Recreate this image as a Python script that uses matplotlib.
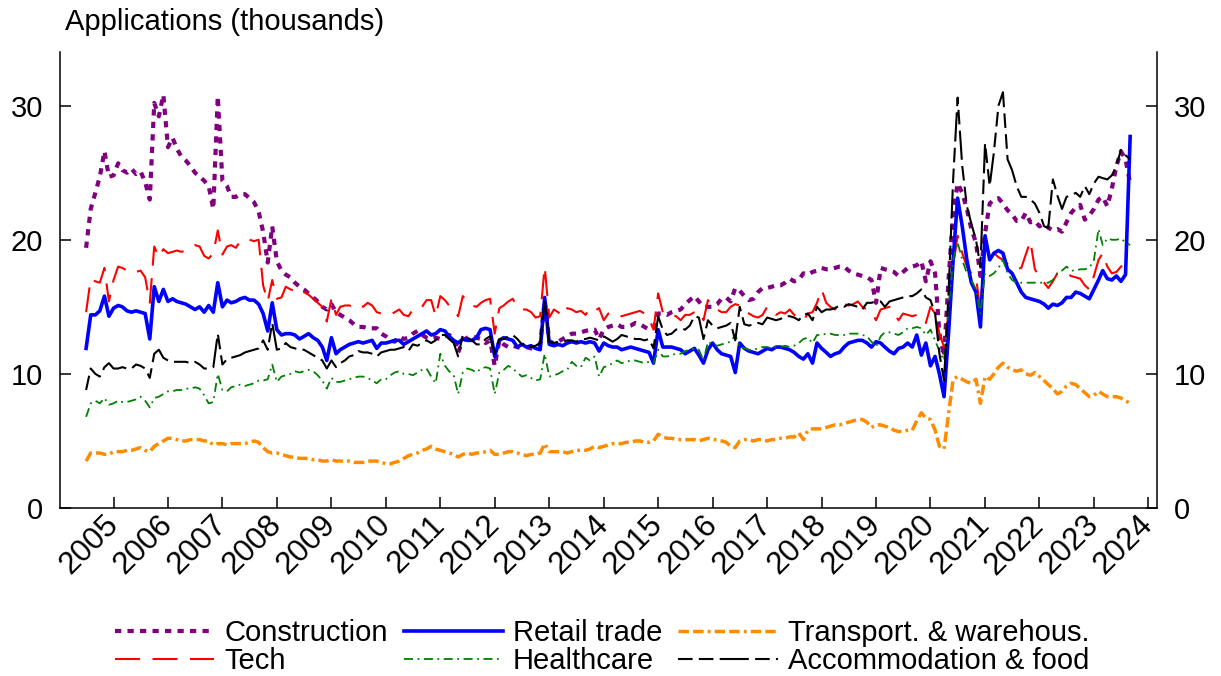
import matplotlib
matplotlib.use("Agg")
import matplotlib.pyplot as plt
import pandas as pd

plt.rcParams['font.family'] = ['Liberation Sans', 'DejaVu Sans']

# monthly, Jul 2004 - Sep 2023 (thousands of applications)
months = pd.date_range('2004-07-01', periods=231, freq='MS')

construction = [
    19.4, 22.3, 23.5, 24.7, 26.6, 24.7,
    24.8, 25.7, 25.2, 25.0, 25.3, 24.9, 25.1, 24.3, 23.0, 30.2, 29.2, 30.8,
    26.9, 27.6, 26.8, 26.2, 25.9, 25.5, 25.0, 24.7, 24.4, 24.0, 22.3, 30.7,
    24.4, 24.0, 23.2, 23.2, 23.4, 23.4, 23.1, 22.8, 22.1, 20.6, 18.3, 21.0,
    18.4, 17.7, 17.4, 17.2, 16.8, 16.5, 16.3, 16.0, 15.7, 15.4, 15.0, 14.8,
    15.2, 14.6, 14.4, 14.2, 14.0, 13.7, 13.5, 13.5, 13.4, 13.4, 13.4, 13.0,
    12.8, 12.5, 12.4, 12.8, 12.6, 12.7, 13.0, 13.2, 12.9, 12.7, 12.6, 12.7,
    12.6, 12.8, 12.9, 12.7, 11.6, 12.5, 12.7, 12.8, 12.7, 12.6, 12.3, 12.5,
    10.6, 12.5, 12.2, 12.0, 12.1, 12.0, 11.9, 12.0, 11.9, 12.0, 12.2, 15.5,
    12.4, 12.3, 12.4, 12.6, 12.8, 13.0, 13.0, 13.1, 13.2, 13.3, 13.3, 12.6,
    13.3, 13.5, 13.6, 13.7, 13.5, 13.5, 13.6, 13.8, 13.7, 13.5, 13.3, 13.4,
    14.5, 14.5, 14.4, 14.6, 14.7, 14.8, 15.2, 15.5, 15.8, 15.4, 15.0, 15.0,
    15.0, 15.2, 15.6, 15.7, 15.4, 16.4, 16.2, 15.8, 15.5, 15.6, 16.1, 16.4,
    16.4, 16.5, 16.6, 16.6, 16.8, 17.1, 16.9, 17.0, 17.5, 17.4, 17.6, 17.7,
    17.9, 17.8, 17.8, 17.9, 18.0, 18.0, 17.7, 17.5, 17.4, 17.3, 17.2, 17.0,
    15.3, 17.9, 17.8, 17.7, 17.6, 17.3, 17.6, 17.9, 18.0, 18.1, 18.4, 16.9,
    18.4, 17.5, 13.0, 11.3, 17.0, 22.0, 24.2, 23.5, 22.3, 20.8, 19.8, 17.3,
    20.5, 22.7, 23.0, 23.1, 22.7, 22.2, 21.9, 21.4, 21.4, 22.0, 21.3, 21.4,
    21.0, 21.2, 20.9, 20.7, 20.8, 20.6, 21.3, 22.0, 22.4, 22.6, 21.5, 21.8,
    22.3, 23.0, 23.2, 22.5, 23.8, 25.5, 26.6, 26.0, 24.2,
]

retail = [
    11.9, 14.4, 14.4, 14.7, 15.8, 14.3,
    14.9, 15.1, 15.0, 14.7, 14.6, 14.7, 14.6, 14.5, 12.6, 16.5, 15.4, 16.3,
    15.4, 15.6, 15.4, 15.3, 15.2, 15.0, 14.8, 15.0, 14.6, 15.1, 14.6, 16.8,
    15.0, 15.5, 15.3, 15.4, 15.6, 15.7, 15.5, 15.5, 15.2, 14.5, 13.2, 15.3,
    13.3, 12.9, 13.0, 13.0, 12.9, 12.6, 12.8, 13.0, 12.7, 12.5, 12.0, 11.0,
    12.7, 11.5, 11.8, 12.0, 12.2, 12.3, 12.4, 12.3, 12.4, 12.5, 11.9, 12.3,
    12.3, 12.4, 12.5, 12.5, 12.2, 12.4, 12.6, 12.8, 13.0, 13.2, 12.9, 13.0,
    13.3, 13.2, 12.8, 12.5, 12.3, 12.6, 12.5, 12.5, 12.7, 13.3, 13.4, 13.3,
    11.3, 12.5, 12.7, 12.6, 12.5, 12.0, 12.2, 12.0, 12.1, 11.9, 11.8, 15.7,
    12.2, 12.1, 12.2, 12.1, 12.3, 12.4, 12.3, 12.4, 12.3, 12.4, 12.3, 11.7,
    12.3, 12.1, 12.0, 12.0, 11.8, 11.9, 12.0, 11.9, 11.8, 11.7, 11.6, 10.8,
    13.3, 12.0, 12.0, 12.0, 11.9, 11.8, 11.5, 11.7, 11.9, 11.4, 10.8, 11.8,
    12.3, 11.8, 11.5, 11.4, 11.3, 10.1, 12.3, 11.9, 11.7, 11.6, 11.5, 11.7,
    11.9, 11.8, 12.0, 12.0, 11.9, 11.8, 11.6, 11.3, 11.1, 11.5, 10.8, 12.3,
    11.9, 11.6, 11.3, 11.5, 11.6, 12.0, 12.3, 12.4, 12.5, 12.5, 12.3, 12.0,
    12.4, 12.3, 12.0, 11.7, 11.5, 11.9, 12.0, 12.3, 12.0, 12.9, 11.4, 12.3,
    10.6, 11.3, 10.0, 8.3, 13.0, 18.5, 23.1, 21.0, 18.5, 16.8, 16.1, 13.5,
    20.3, 18.5, 19.0, 19.2, 19.0, 17.8, 17.5, 16.8, 16.1, 15.7, 15.6, 15.5,
    15.4, 15.2, 14.9, 15.2, 15.1, 15.3, 15.7, 15.7, 16.1, 16.0, 15.8, 15.6,
    16.3, 17.0, 17.7, 17.1, 17.0, 17.3, 16.9, 17.4, 27.7,
]

transport = [
    3.5, 4.1, 4.1, 4.1, 4.0, 4.0,
    4.2, 4.2, 4.2, 4.3, 4.3, 4.4, 4.5, 4.3, 4.2, 4.6, 4.8, 5.0,
    5.2, 5.2, 5.1, 5.0, 5.0, 5.1, 5.1, 5.1, 5.0, 5.0, 4.7, 4.8,
    4.8, 4.7, 4.8, 4.8, 4.8, 4.8, 4.9, 5.0, 4.9, 4.5, 4.2, 4.1,
    4.1, 4.0, 3.9, 3.8, 3.8, 3.7, 3.7, 3.7, 3.6, 3.6, 3.5, 3.5,
    3.6, 3.5, 3.5, 3.5, 3.5, 3.4, 3.4, 3.4, 3.5, 3.5, 3.5, 3.4,
    3.3, 3.3, 3.4, 3.5, 3.7, 3.9, 4.0, 4.1, 4.3, 4.4, 4.6, 4.4,
    4.3, 4.2, 4.1, 4.0, 3.8, 4.0, 4.1, 4.0, 4.1, 4.1, 4.2, 4.3,
    4.0, 4.0, 4.1, 4.2, 4.2, 4.1, 4.0, 3.9, 4.0, 4.0, 4.1, 4.8,
    4.2, 4.2, 4.2, 4.2, 4.1, 4.2, 4.3, 4.3, 4.3, 4.4, 4.6, 4.5,
    4.6, 4.7, 4.8, 4.8, 4.8, 4.9, 4.9, 5.0, 5.0, 4.9, 4.9, 5.0,
    5.5, 5.3, 5.2, 5.2, 5.1, 5.1, 5.1, 5.1, 5.1, 5.0, 5.1, 5.2,
    5.1, 5.1, 5.0, 4.9, 4.6, 4.5, 5.0, 5.1, 5.1, 5.0, 5.1, 5.1,
    5.0, 5.1, 5.1, 5.2, 5.2, 5.3, 5.3, 5.6, 5.1, 5.8, 5.9, 5.9,
    5.9, 6.0, 6.1, 6.2, 6.2, 6.3, 6.4, 6.5, 6.6, 6.6, 6.4, 6.0,
    6.2, 6.2, 6.1, 6.0, 5.8, 5.7, 5.7, 5.8, 5.8, 6.5, 7.1, 6.7,
    6.6, 5.8, 4.6, 4.4, 7.0, 9.6, 9.8, 9.6, 9.4, 9.3, 9.6, 7.8,
    9.8, 9.6, 10.0, 10.5, 10.8, 10.5, 10.3, 10.2, 10.3, 10.0, 9.9, 10.1,
    9.8, 9.5, 9.2, 8.9, 8.5, 8.7, 9.1, 9.3, 9.2, 8.9, 8.6, 8.3,
    8.4, 8.7, 8.5, 8.3, 8.3, 8.3, 8.2, 8.0, 7.8,
]

tech = [
    14.6, 17.1, 16.9, 16.8, 17.9, 15.4,
    17.0, 18.0, 17.9, 17.7, 17.8, 17.6, 17.7, 17.2, 15.3, 19.5, 18.7, 19.3,
    19.0, 19.1, 19.2, 19.1, 19.2, 19.4, 19.6, 19.5, 18.8, 18.6, 19.0, 20.7,
    18.9, 19.5, 19.6, 19.4, 19.9, 20.0, 20.0, 19.9, 20.0, 16.6, 15.4, 17.0,
    15.6, 15.7, 16.5, 16.3, 16.2, 15.9, 16.1, 15.9, 15.6, 15.3, 15.0, 13.9,
    15.6, 14.4, 15.0, 15.1, 15.1, 15.0, 15.2, 15.0, 15.3, 15.1, 14.6, 14.5,
    14.5, 14.4, 14.6, 14.8, 14.4, 14.3, 14.8, 15.0, 15.0, 15.5, 15.5, 14.3,
    15.8, 15.5, 15.1, 14.8, 14.3, 15.8, 15.4, 15.1, 15.0, 15.3, 15.5, 15.6,
    13.0, 14.9, 15.1, 15.4, 15.6, 15.0, 14.8, 14.8, 14.6, 14.2, 14.3, 18.0,
    14.2, 14.8, 14.6, 14.3, 14.9, 14.8, 14.6, 14.7, 14.4, 14.9, 14.7, 14.9,
    14.0, 14.5, 14.6, 14.4, 14.3, 14.4, 14.5, 14.6, 14.7, 14.5, 14.1, 13.3,
    16.0, 14.6, 14.4, 14.4, 14.3, 14.0, 14.4, 14.4, 14.6, 14.7, 14.0, 15.5,
    15.0, 14.8, 14.6, 14.6, 15.0, 15.2, 15.1, 14.6, 14.5, 14.3, 14.2, 14.4,
    15.0, 14.8, 14.4, 14.6, 14.5, 14.8, 14.4, 14.2, 14.0, 14.5, 14.6, 15.3,
    16.3, 15.3, 15.0, 14.8, 15.4, 15.2, 15.1, 15.2, 15.4, 15.0, 14.8, 14.6,
    14.0, 14.8, 14.9, 15.0, 14.5, 14.0, 14.5, 14.4, 14.3, 14.4, 14.3, 13.8,
    15.0, 14.5, 13.0, 12.0, 14.5, 18.0, 20.3, 19.0, 18.0, 17.5, 17.2, 14.8,
    19.8, 18.5, 19.0, 18.7, 18.5, 18.2, 18.0, 17.8, 17.9, 18.9, 19.9, 17.8,
    17.2, 16.8, 16.4, 16.9, 17.5, 17.6, 17.5, 17.3, 17.2, 17.1, 16.6, 16.3,
    17.3, 18.5, 19.0, 18.0, 17.5, 17.6, 18.0, 18.2, 18.1,
]

healthcare = [
    6.8, 7.8, 8.0, 7.8, 8.2, 7.7,
    7.8, 8.0, 7.9, 7.9, 8.0, 8.1, 8.3, 8.0, 7.5, 8.2, 8.3, 8.5,
    8.7, 8.7, 8.8, 8.8, 8.9, 8.9, 9.0, 8.9, 8.4, 7.8, 7.9, 10.0,
    8.8, 8.7, 9.0, 9.1, 9.2, 9.1, 9.2, 9.3, 9.5, 9.5, 9.6, 10.7,
    9.4, 9.8, 9.9, 10.0, 10.2, 10.1, 10.2, 10.3, 10.2, 9.9, 9.5, 8.9,
    9.7, 9.4, 9.4, 9.5, 9.6, 9.7, 9.8, 9.8, 9.7, 9.5, 9.3, 9.6,
    9.6, 9.9, 10.1, 10.2, 10.0, 10.0, 9.9, 10.1, 10.3, 10.4, 9.8, 9.3,
    11.5, 10.6, 10.2, 9.9, 8.5, 10.1, 10.4, 10.3, 10.1, 10.4, 10.5, 10.4,
    8.5, 10.1, 10.3, 10.6, 10.4, 10.1, 9.8, 9.9, 9.7, 9.5, 9.6, 11.5,
    9.8, 9.9, 10.0, 10.2, 10.3, 10.9, 10.6, 10.5, 11.2, 11.0, 11.3, 9.8,
    10.5, 10.6, 10.8, 11.0, 10.8, 10.9, 11.0, 11.0, 10.9, 10.8, 10.9, 10.8,
    11.8, 11.3, 11.3, 11.4, 11.5, 11.5, 11.7, 11.8, 11.9, 11.8, 11.0, 12.4,
    12.2, 12.1, 12.2, 12.3, 12.4, 12.9, 12.0, 11.9, 11.8, 11.8, 11.9, 12.0,
    12.0, 11.9, 12.0, 12.0, 12.1, 12.0, 12.1, 12.3, 12.6, 12.7, 12.3, 12.9,
    12.9, 13.0, 13.0, 12.9, 12.9, 12.9, 13.0, 13.0, 13.0, 12.9, 12.8, 12.4,
    12.0, 12.8, 13.1, 13.1, 13.0, 12.9, 13.1, 13.4, 13.4, 13.5, 13.4, 12.9,
    13.3, 12.5, 11.7, 11.0, 15.0, 18.5, 19.8, 18.5, 17.5, 17.0, 16.3, 14.5,
    17.5, 17.3, 17.5, 17.9, 18.5, 17.5, 17.0, 16.8, 16.8, 16.8, 16.8, 16.8,
    16.8, 16.8, 16.8, 17.0, 17.5, 17.7, 18.0, 17.7, 17.7, 17.8, 17.8, 17.9,
    18.5, 20.8, 19.6, 20.1, 20.0, 20.0, 20.1, 19.8, 19.6,
]

accommodation = [
    8.8, 10.4, 10.0, 9.8, 10.5, 10.8,
    10.4, 10.4, 10.5, 10.4, 10.4, 10.7, 10.6, 10.4, 9.7, 11.5, 11.8, 11.2,
    11.0, 10.9, 10.9, 10.9, 10.9, 10.8, 10.9, 10.7, 10.4, 10.4, 10.5, 13.0,
    10.7, 11.1, 11.2, 11.3, 11.4, 11.6, 11.7, 11.8, 11.9, 12.5, 11.8, 13.8,
    11.8, 11.9, 12.3, 12.0, 11.9, 11.8, 11.8, 11.6, 11.4, 11.2, 11.0, 10.4,
    11.0, 10.5, 10.8, 11.0, 11.3, 11.4, 11.7, 11.6, 11.6, 11.5, 11.3, 11.6,
    11.7, 11.8, 11.8, 11.9, 12.0, 11.7, 12.2, 12.1, 12.3, 12.5, 12.3, 12.5,
    12.9, 12.9, 12.6, 12.3, 11.3, 12.9, 12.7, 12.5, 12.2, 12.2, 12.6, 12.8,
    11.5, 12.6, 12.6, 12.8, 12.9, 12.6, 12.2, 12.3, 12.0, 12.1, 12.3, 15.5,
    12.4, 12.3, 12.4, 12.4, 12.5, 12.5, 12.4, 12.6, 12.6, 12.7, 12.6, 12.5,
    12.8, 12.6, 12.4, 12.6, 12.9, 12.8, 12.7, 12.6, 12.6, 12.5, 12.6, 11.9,
    14.3, 13.3, 12.9, 13.0, 13.3, 13.4, 13.3, 13.6, 14.3, 14.2, 12.6, 14.0,
    13.6, 13.4, 13.5, 13.6, 13.8, 12.5, 15.0, 13.7, 13.6, 13.7, 13.8, 13.7,
    14.2, 14.1, 14.0, 14.1, 14.3, 14.3, 14.2, 14.0, 14.4, 14.5, 14.0, 15.0,
    14.6, 14.8, 14.8, 14.9, 15.1, 15.0, 15.2, 15.1, 15.0, 14.8, 15.3, 15.3,
    15.4, 15.4, 15.0, 15.4, 15.5, 15.6, 15.7, 15.8, 15.8, 16.0, 16.3, 15.7,
    15.5, 14.5, 11.5, 9.5, 16.0, 24.5, 30.6, 25.5, 22.5, 21.2, 20.0, 18.0,
    27.2, 24.0, 26.5, 30.0, 31.0, 26.0, 25.2, 24.0, 23.2, 23.2, 23.0, 22.7,
    22.0, 21.0, 20.9, 24.5, 23.3, 22.3, 23.2, 23.3, 23.5, 23.2, 24.0, 23.4,
    24.2, 24.7, 24.6, 24.5, 24.8, 25.5, 26.7, 26.3, 26.0,
]

year_ticks = pd.to_datetime([f'{y}-01-01' for y in range(2005, 2025)])
year_labels = [str(y) for y in range(2005, 2025)]

fig = plt.figure(figsize=(12.21, 6.76), dpi=100)
ax = fig.add_axes([60/1221, 1 - 508/676, (1157 - 60)/1221, (508 - 52)/676])

l_con, = ax.plot(months, construction, color='#800080', lw=3.0, ls=(0, (1.5, 1.5)), label='Construction')
l_tech, = ax.plot(months, tech, color='#ff0000', lw=1.5, ls=(0, (12, 6)), label='Tech')
l_ret, = ax.plot(months, retail, color='#0000ff', lw=2.6, label='Retail trade')
l_hc, = ax.plot(months, healthcare, color='#008000', lw=1.3, ls=(0, (5, 2.5, 1, 2.5)), label='Healthcare')
l_tr, = ax.plot(months, transport, color='#ff8c00', lw=2.5, ls=(0, (3, 1.2, 3, 1.2, 0.8, 1.2)),
                label='Transport. & warehous.')
l_acc, = ax.plot(months, accommodation, color='black', lw=1.5, ls=(0, (7, 3, 7, 3, 14, 3)),
                 label='Accommodation & food')

ax.set_ylim(0, 34)
ax.set_yticks([0, 10, 20, 30])
ax.set_xlim(pd.Timestamp('2004-01-08'), pd.Timestamp('2024-02-28'))
ax.set_xticks(year_ticks)
ax.set_xticklabels(year_labels, rotation=45, ha='right', va='center', rotation_mode='anchor')

ax.spines['top'].set_visible(False)
for s in ['left', 'right', 'bottom']:
    ax.spines[s].set_linewidth(1.1)

ax.tick_params(axis='y', direction='in', length=8, width=1.1, labelsize=21, pad=12,
               right=True, labelright=True)
ax.tick_params(axis='x', direction='in', length=8, width=1.1, labelsize=22.5, pad=9)

fig.text(65/1221, 1 - 22/676, 'Applications (thousands)', fontsize=21, ha='left', va='center')

# legend fills column by column, so order it to read row by row
handles = [l_con, l_tech, l_ret, l_hc, l_tr, l_acc]
fig.legend(handles=handles, labels=[h.get_label() for h in handles], ncol=3,
           loc='center', bbox_to_anchor=(0.493, 0.043), frameon=False, fontsize=21,
           handlelength=3.4, handletextpad=0.35, columnspacing=0.55, labelspacing=0.0,
           borderpad=0)

fig.savefig('out.png', dpi=100)
